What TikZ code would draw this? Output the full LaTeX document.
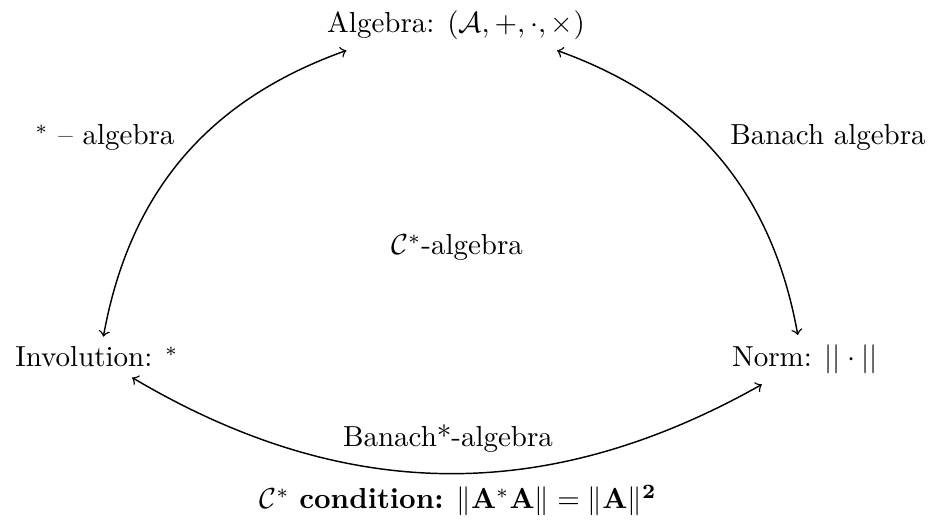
\documentclass[tikz,border=0pt]{standalone}
\usepackage{amsmath,amssymb}
\begin{document}
\begin{tikzpicture}[x=0.345pt,y=-0.345pt,
  lbl/.style={anchor=base,inner sep=0pt},
  vtx/.style={anchor=base},
  link/.style={<->,line width=0.5pt}]
\useasboundingbox (0,0) rectangle (930,529);
\node[vtx] (alg) at (456,33) {Algebra: $(\mathcal{A},+,\cdot,\times)$};
\node[vtx] (inv) at (97,367) {Involution: $^*$};
\node[vtx] (norm) at (805,367) {Norm: $||\cdot||$};
\node[lbl] (cstar) at (457,255) {$\mathcal{C}^*$-algebra};
\node[lbl] (lstar) at (105,145) {$^*$ -- algebra};
\node[lbl] (lban) at (828,145) {Banach algebra};
\node[lbl] (lbanstar) at (448,447) {Banach*-algebra};
\node[lbl] (cond) at (458,509) {$\mathcal{C}^*$ \textbf{condition:} $\|\mathbf{A}^*\mathbf{A}\| = \|\mathbf{A}\|^{\mathbf{2}}$};
\draw[link] (alg) to[bend right=30] (inv);
\draw[link] (alg) to[bend left=30] (norm);
\draw[link] (inv) to[bend right=30] (norm);
\end{tikzpicture}
\end{document}
